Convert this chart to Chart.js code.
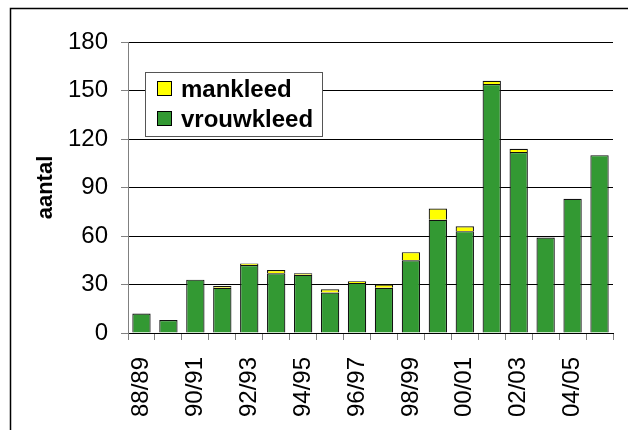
<!DOCTYPE html>
<html>
<head>
<meta charset="utf-8">
<script src="https://cdn.jsdelivr.net/npm/chart.js@4"></script>
<style>
  html, body { margin: 0; padding: 0; background: #fff; }
  #wrap { width: 628px; height: 430px; position: relative; }
</style>
</head>
<body>
<div id="wrap"><canvas id="kleedChart" width="628" height="430"></canvas></div>
<script>
// seizoenen (categorieen op de x-as)
const seasons = ['88/89', '89/90', '90/91', '91/92', '92/93', '93/94', '94/95', '95/96', '96/97',
                 '97/98', '98/99', '99/00', '00/01', '01/02', '02/03', '03/04', '04/05', '05/06'];
// aantallen per seizoen
const vrouwkleed = [12, 8, 33, 28, 42, 37, 36, 25, 31, 28, 45, 70, 63, 154, 112, 59, 83, 110];
const mankleed   = [0, 0, 0, 1, 1, 2, 1, 2, 1, 2, 5, 7, 3, 2, 2, 0, 0, 0];
// y-as schaal
const yMin = 0, yMax = 180, yStep = 30;

const fontFam = "'Liberation Sans', Arial, sans-serif";

// kader + legenda in de grafiek
const boxPlugin = {
    id: 'boxPlugin',
    beforeDraw(chart) {
        const ctx = chart.ctx;
        ctx.save();
        ctx.strokeStyle = '#000';
        ctx.lineWidth = 1.5;
        ctx.beginPath();
        ctx.moveTo(10.5, 440);
        ctx.lineTo(10.5, 8.5);
        ctx.lineTo(640, 8.5);
        ctx.stroke();
        ctx.restore();
    },
    afterDatasetsDraw(chart) {
        const ctx = chart.ctx;
        ctx.save();
        ctx.fillStyle = '#fff';
        ctx.fillRect(145, 72, 178, 65);
        ctx.strokeStyle = '#555';
        ctx.lineWidth = 1;
        ctx.strokeRect(145.5, 72.5, 177, 64);
        const items = chart.data.datasets.slice().reverse();
        ctx.font = 'bold 24px ' + fontFam;
        ctx.textBaseline = 'middle';
        items.forEach((ds, i) => {
            const yc = 89 + i * 30;
            ctx.fillStyle = ds.backgroundColor;
            ctx.fillRect(157, yc - 8, 15, 15);
            ctx.strokeStyle = '#000';
            ctx.strokeRect(157.5, yc - 7.5, 14, 14);
            ctx.fillStyle = '#000';
            ctx.fillText(ds.label, 181, yc + 1);
        });
        ctx.restore();
    }
};

const data = {
    labels: seasons,
    datasets: [{
        label: 'vrouwkleed',
        data: vrouwkleed,
        backgroundColor: '#339933',
        borderColor: '#111',
        borderWidth: 1.2,
        categoryPercentage: 1,
        barPercentage: 0.68
    }, {
        label: 'mankleed',
        data: mankleed,
        backgroundColor: '#ffff00',
        borderColor: '#111',
        borderWidth: 1.2,
        categoryPercentage: 1,
        barPercentage: 0.68
    }]
};

const config = {
    type: 'bar',
    data: data,
    options: {
        responsive: false,
        animation: false,
        layout: { padding: { top: 42, right: 15, left: 0, bottom: 0 } },
        plugins: {
            legend: { display: false },
            tooltip: { enabled: false }
        },
        scales: {
            x: {
                stacked: true,
                afterFit: (s) => {
                    s.height = 97;
                    s.paddingLeft = 0;
                    s.paddingRight = 0;
                },
                grid: {
                    offset: true,
                    drawOnChartArea: false,
                    drawTicks: true,
                    tickLength: 7,
                    tickColor: '#808080'
                },
                border: { color: '#000', width: 1 },
                ticks: {
                    autoSkip: false,
                    minRotation: 90,
                    maxRotation: 90,
                    padding: 17,
                    color: '#000',
                    font: { family: fontFam, size: 24 },
                    callback: function(v, i) { return i % 2 ? '' : seasons[i]; }
                }
            },
            y: {
                stacked: true,
                min: yMin,
                max: yMax,
                afterFit: (s) => { s.width = 128; },
                grid: {
                    color: '#000',
                    lineWidth: 1,
                    tickLength: 7,
                    tickColor: '#808080'
                },
                border: { color: '#808080', width: 1 },
                ticks: {
                    stepSize: yStep,
                    padding: 13,
                    color: '#000',
                    font: { family: fontFam, size: 24 }
                },
                title: {
                    display: true,
                    text: 'aantal',
                    color: '#000',
                    padding: { top: 33, bottom: 0 },
                    font: { family: fontFam, size: 22, weight: 'bold' }
                }
            }
        }
    },
    plugins: [boxPlugin]
};

new Chart(document.getElementById('kleedChart'), config);
</script>
</body>
</html>
